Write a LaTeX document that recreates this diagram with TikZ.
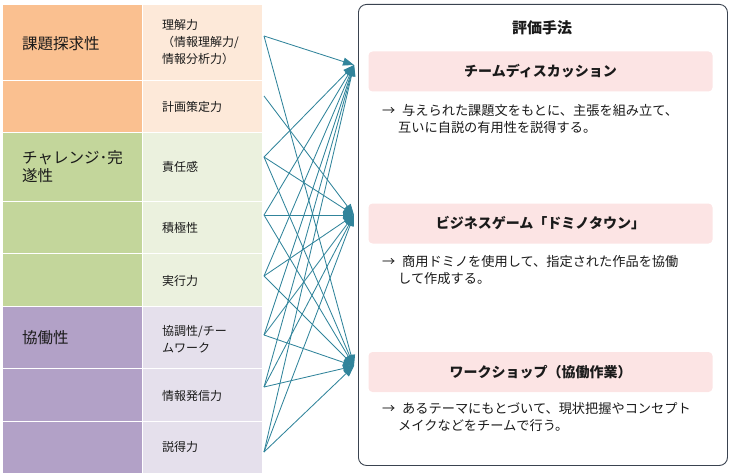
\documentclass[tikz,border=0pt]{standalone}
\usepackage{fontspec}
\setmainfont{Noto Sans CJK JP}
\usetikzlibrary{arrows.meta}
\definecolor{orA}{HTML}{FAC090}
\definecolor{orB}{HTML}{FDE9D9}
\definecolor{grA}{HTML}{C3D69B}
\definecolor{grB}{HTML}{EBF1DE}
\definecolor{puA}{HTML}{B2A1C7}
\definecolor{puB}{HTML}{E5E0EC}
\definecolor{tealc}{HTML}{31849B}
\definecolor{boxc}{HTML}{3A4350}
\definecolor{pinkc}{HTML}{FCE4E4}
\definecolor{txt}{HTML}{1A1A1A}
\begin{document}
\begin{tikzpicture}[x=1pt,y=-1pt,
  cellA/.style={draw=white, line width=1.2pt, inner sep=0pt, anchor=north west, minimum width=140pt},
  cellB/.style={draw=white, line width=1.2pt, inner sep=0pt, anchor=north west, minimum width=120pt},
  grp/.style={font=\fontsize{15.5}{18}\selectfont, text=txt, align=left, anchor=west, inner sep=0pt},
  itm/.style={font=\fontsize{12}{17}\selectfont, text=txt, align=left, anchor=west, inner sep=0pt},
  conn/.style={draw=tealc, line width=0.85pt, -{Triangle[length=11pt,width=8pt]}},
  pinkbox/.style={fill=pinkc, rounded corners=4pt, minimum width=344pt, minimum height=40pt, inner sep=0pt, font=\fontsize{14}{17}\selectfont\bfseries, text=txt},
  desc/.style={font=\fontsize{13.2}{17}\selectfont, text=txt, align=left, anchor=west, inner sep=0pt}
]
\useasboundingbox (0,0) rectangle (733,476);

% left column 1
\node[cellA, fill=orA, minimum height=76pt] (a1) at (2,4) {};
\node[cellA, fill=orA, minimum height=52pt] (a2) at (2,80) {};
\node[cellA, fill=grA, minimum height=69pt] (a3) at (2,132) {};
\node[cellA, fill=grA, minimum height=52pt] (a4) at (2,201) {};
\node[cellA, fill=grA, minimum height=53pt] (a5) at (2,253) {};
\node[cellA, fill=puA, minimum height=62pt] (a6) at (2,306) {};
\node[cellA, fill=puA, minimum height=53pt] (a7) at (2,368) {};
\node[cellA, fill=puA, minimum height=52pt] (a8) at (2,421) {};
% left column 2
\node[cellB, fill=orB, minimum height=76pt] (b1) at (142,4) {};
\node[cellB, fill=orB, minimum height=52pt] (b2) at (142,80) {};
\node[cellB, fill=grB, minimum height=69pt] (b3) at (142,132) {};
\node[cellB, fill=grB, minimum height=52pt] (b4) at (142,201) {};
\node[cellB, fill=grB, minimum height=53pt] (b5) at (142,253) {};
\node[cellB, fill=puB, minimum height=62pt] (b6) at (142,306) {};
\node[cellB, fill=puB, minimum height=53pt] (b7) at (142,368) {};
\node[cellB, fill=puB, minimum height=52pt] (b8) at (142,421) {};

% group labels
\node[grp] (g1) at (22,44) {課題探求性};
\node[grp] (g2) at (22,167) {チャレンジ･完\\遂性};
\node[grp] (g3) at (22,338) {協働性};

% item labels
\node[itm] (l1) at (162,42) {理解力\\（情報理解力/\\情報分析力）};
\node[itm] (l2) at (162,107) {計画策定力};
\node[itm] (l3) at (162,167) {責任感};
\node[itm] (l4) at (162,228) {積極性};
\node[itm] (l5) at (162,281) {実行力};
\node[itm] (l6) at (162,339) {協調性/チー\\ムワーク};
\node[itm] (l7) at (162,396) {情報発信力};
\node[itm] (l8) at (162,447) {説得力};

% right box
\node[draw=boxc, line width=0.9pt, rounded corners=8pt, minimum width=369pt, minimum height=461pt, inner sep=0pt, anchor=north west] (box) at (358,4) {};
\node[font=\fontsize{15}{18}\selectfont\bfseries, text=txt] (ttl) at (542,28) {評価手法};

\node[pinkbox] (m1) at (540.5,71.5) {チームディスカッション};
\node[pinkbox] (m2) at (540.5,223.5) {ビジネスゲーム「ドミノタウン」};
\node[pinkbox] (m3) at (540.5,372) {ワークショップ（協働作業）};

\node[desc] (d1) at (382,119.5) {\makebox[20pt][l]{→}与えられた課題文をもとに、主張を組み立て、\\\hspace*{16pt}互いに自説の有用性を説得する。};
\node[desc] (d2) at (382,270) {\makebox[20pt][l]{→}商用ドミノを使用して、指定された作品を協働\\\hspace*{16pt}して作成する。};
\node[desc] (d3) at (382,416.5) {\makebox[20pt][l]{→}あるテーマにもとづいて、現状把握やコンセプト\\\hspace*{16pt}メイクなどをチームで行う。};

% connector ends
\coordinate (s1) at (264,36);
\coordinate (s2) at (264,96);
\coordinate (s3) at (264,157);
\coordinate (s4) at (264,215);
\coordinate (s5) at (264,276);
\coordinate (s6) at (264,335);
\coordinate (s7) at (264,387);
\coordinate (s8) at (264,452);
\coordinate (t1) at (354,65);
\coordinate (t2) at (354,215);
\coordinate (t3) at (354,366);

\draw[conn] (s1) -- (t1);
\draw[conn] (s1) -- (t3);
\draw[conn] (s2) -- (t2);
\foreach \s in {s3,s4,s5,s6,s7,s8}{
  \draw[conn] (\s) -- (t1);
  \draw[conn] (\s) -- (t2);
  \draw[conn] (\s) -- (t3);
}
\end{tikzpicture}
\end{document}
